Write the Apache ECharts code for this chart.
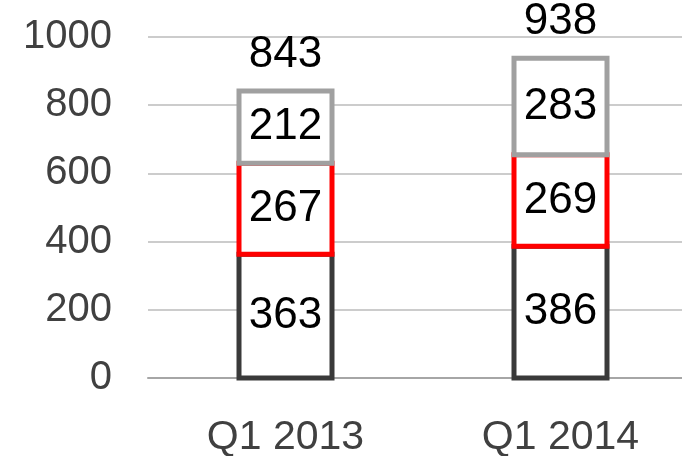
<!DOCTYPE html>
<html>
<head>
<meta charset="utf-8">
<script src="https://cdn.jsdelivr.net/npm/echarts@6/dist/echarts.min.js"></script>
<style>
  html, body { margin: 0; padding: 0; background: #fff; }
  #chart { width: 682px; height: 456px; }
</style>
</head>
<body>
<div id="chart"></div>
<script>
// 数据
var categories = ['Q1 2013', 'Q1 2014'];
var bottomVals = [363, 386];
var middleVals = [267, 269];
var topVals = [212, 283];
var totals = [843, 938];
var yTicks = [0, 200, 400, 600, 800, 1000];

var LABEL_FONT = '44px "Liberation Sans", Arial, sans-serif';
var BAR_W = 93;
var GRID_LEFT = 148;
var BAND_PX = 275; // 类目间距，右侧超出画布
var catIdx = categories.map(function (c, i) { return i; });

var myChart = echarts.init(document.getElementById('chart'));

// 堆叠：每段 [类目, 起点, 终点]
function buildStack(layers) {
	var base = categories.map(function () { return 0; });
	return layers.map(function (vals) {
		return vals.map(function (v, i) {
			var item = [i, base[i], base[i] + v];
			base[i] += v;
			return item;
		});
	});
}
var stacked = buildStack([bottomVals, middleVals, topVals]);

function labelText(str, x, y) {
	return {
		type: 'text',
		z2: 10,
		style: {
			text: str, x: x, y: y,
			align: 'center', verticalAlign: 'middle',
			font: LABEL_FONT, fill: '#000'
		}
	};
}

function segment(name, data, border) {
	return {
		name: name,
		type: 'custom',
		data: data,
		encode: { x: 0, y: [1, 2] },
		renderItem: function (params, api) {
			var lo = api.coord([api.value(0), api.value(1)]);
			var hi = api.coord([api.value(0), api.value(2)]);
			return {
				type: 'group',
				children: [{
					type: 'rect',
					shape: { x: lo[0] - BAR_W / 2, y: hi[1], width: BAR_W, height: lo[1] - hi[1] },
					style: { fill: '#fff', stroke: border, lineWidth: 5 }
				}, labelText(String(api.value(2) - api.value(1)), lo[0], (lo[1] + hi[1]) / 2)]
			};
		}
	};
}

var option = {
	animation: false,
	grid: { left: GRID_LEFT, right: 0, top: 37, bottom: 78, outerBoundsMode: 'none' },
	xAxis: {
		type: 'value',
		min: -0.5,
		max: -0.5 + (682 - GRID_LEFT) / BAND_PX,
		splitLine: { show: false },
		axisLine: { lineStyle: { color: '#a6a6a6', width: 2 } },
		axisTick: { show: false },
		axisLabel: {
			customValues: catIdx,
			color: '#404040',
			fontFamily: 'Liberation Sans',
			fontSize: 41,
			margin: 39,
			formatter: function (v) { return categories[Math.round(v)] || ''; }
		}
	},
	yAxis: {
		type: 'value',
		min: yTicks[0],
		max: yTicks[yTicks.length - 1],
		interval: 200,
		axisLine: { show: false },
		axisTick: { show: false },
		splitLine: { lineStyle: { color: '#cccccc', width: 2 } },
		axisLabel: {
			color: '#404040',
			fontFamily: 'Liberation Sans',
			fontSize: 40,
			margin: 36,
			formatter: function (v) { return String(v); }
		}
	},
	series: [
		segment('bottom', stacked[0], '#3a3a3a'),
		segment('middle', stacked[1], '#ff0000'),
		segment('top', stacked[2], '#a0a0a0'),
		{
			name: 'total',
			type: 'custom',
			data: totals.map(function (t, i) { return [i, t]; }),
			encode: { x: 0, y: 1 },
			renderItem: function (params, api) {
				var p = api.coord([api.value(0), api.value(1)]);
				return labelText(String(api.value(1)), p[0], p[1] - 36);
			}
		}
	]
};

myChart.setOption(option, true);
</script>
</body>
</html>
